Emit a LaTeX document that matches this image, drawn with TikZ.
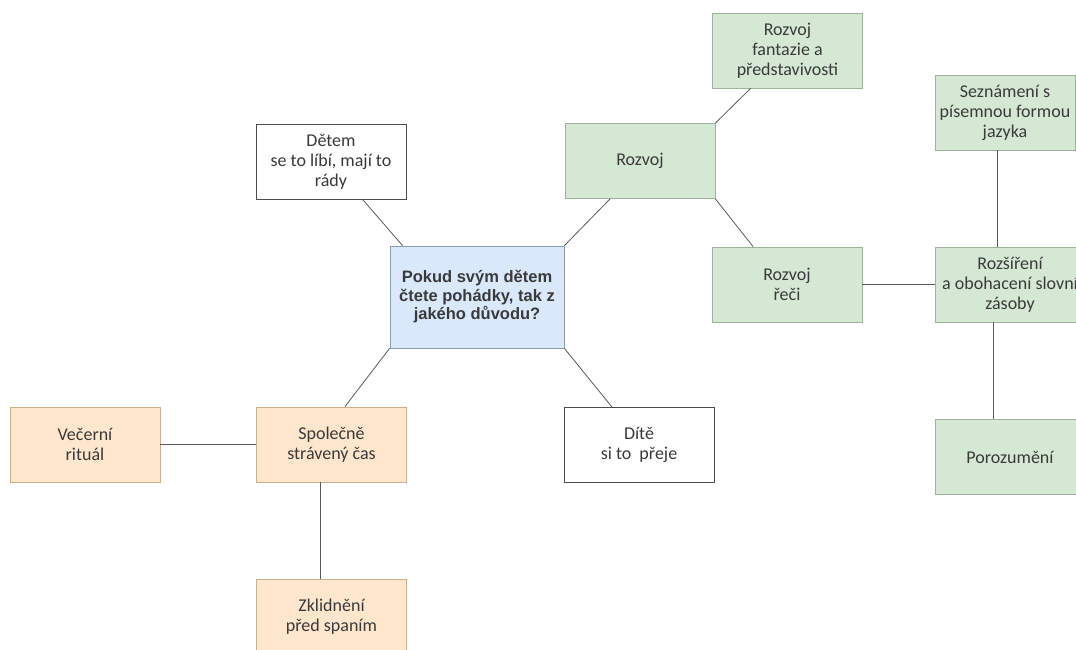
\documentclass[tikz,border=0pt]{standalone}
\usepackage{fontspec}
\setmainfont{Carlito}
\newfontfamily\headfont{Liberation Sans}
\usepackage{tikz}

\definecolor{qfill}{HTML}{DAE8FC}
\definecolor{qline}{HTML}{8A9BB5}
\definecolor{gfill}{HTML}{D5E8D4}
\definecolor{gline}{HTML}{9DB39C}
\definecolor{ofill}{HTML}{FFE6CC}
\definecolor{oline}{HTML}{C9AE90}
\definecolor{txt}{HTML}{3A3A3A}

\tikzset{
	box/.style={draw, line width=0.9pt, minimum width=150pt, minimum height=75pt,
		inner sep=0pt, align=center, text=txt, font=\fontsize{18}{20}\selectfont},
	whitebox/.style={box, draw=black!70, fill=white},
	greenbox/.style={box, draw=gline, fill=gfill},
	orangebox/.style={box, draw=oline, fill=ofill},
	link/.style={draw=black!65, line width=0.8pt}
}

\begin{document}
\begin{tikzpicture}[x=1pt, y=-1pt]
	\useasboundingbox (0,0) rectangle (1076,650);
	\begin{scope}
	\clip (0,0) rectangle (1076,650);
	\node [box, draw=qline, fill=qfill, minimum width=174pt, minimum height=102pt,
		font=\headfont\bfseries\fontsize{16.5}{18.5}\selectfont] (question) at (477, 297)
		{Pokud svým dětem\\čtete pohádky, tak z\\jakého důvodu?};
	\node [whitebox] (detem) at (331, 162) {Dětem\\se to líbí, mají to\\rády};
	\node [greenbox] (rozvoj) at (640, 161) {Rozvoj};
	\node [greenbox] (fantazie) at (787.5, 50.5) {Rozvoj\\fantazie a\\představivosti};
	\node [greenbox, minimum width=140pt] (seznameni) at (1005, 112.5) {Seznámení s\\písemnou formou\\jazyka};
	\node [greenbox] (reci) at (787, 284.5) {Rozvoj\\řeči};
	\node [greenbox] (rozsireni) at (1010, 284.5) {Rozšíření\\a obohacení slovní\\zásoby};
	\node [greenbox] (porozumeni) at (1010, 457) {Porozumění};
	\node [whitebox] (dite) at (639, 445) {Dítě\\si to~~přeje};
	\node [orangebox] (spolecne) at (331.5, 444.5) {Společně\\strávený čas};
	\node [orangebox] (vecerni) at (85, 444.5) {Večerní\\rituál};
	\node [orangebox] (zklidneni) at (331.5, 616.5) {Zklidnění\\před spaním};
	\end{scope}

	\draw [link] ([xshift=32pt]detem.south) -- ([xshift=13pt]question.north west);
	\draw [link] ([xshift=-30pt]rozvoj.south) -- (question.north east);
	\draw [link] (rozvoj.north east) -- ([xshift=-37pt]fantazie.south);
	\draw [link] (rozvoj.south east) -- ([xshift=-34pt]reci.north);
	\draw [link] (reci.east) -- (rozsireni.west);
	\draw [link] ([xshift=-8pt]seznameni.south) -- ([xshift=-13pt]rozsireni.north);
	\draw [link] ([xshift=-17pt]rozsireni.south) -- ([xshift=-17pt]porozumeni.north);
	\draw [link] (question.south east) -- ([xshift=-27pt]dite.north);
	\draw [link] (question.south west) -- ([xshift=13.5pt]spolecne.north);
	\draw [link] (vecerni.east) -- (spolecne.west);
	\draw [link] ([xshift=-11pt]spolecne.south) -- ([xshift=-11pt]zklidneni.north);
\end{tikzpicture}
\end{document}
